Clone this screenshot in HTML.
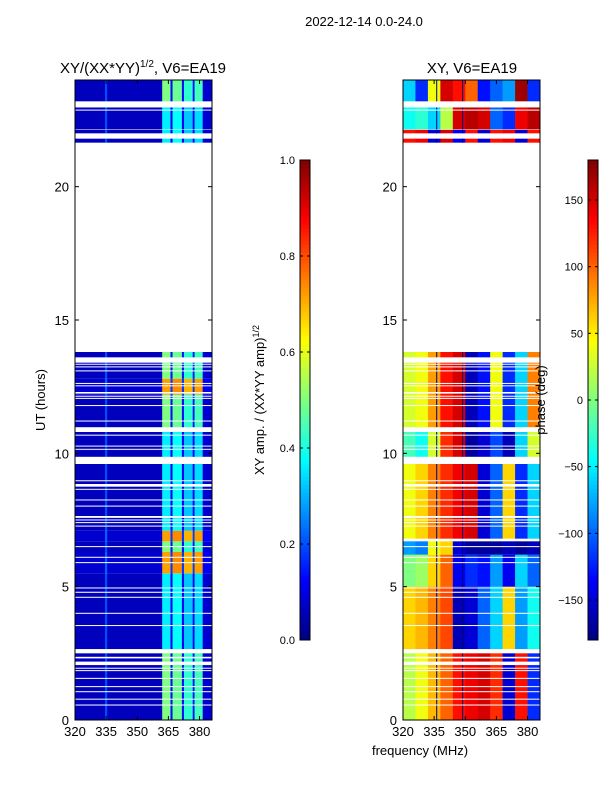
<!DOCTYPE html>
<html><head><meta charset="utf-8">
<style>
body{margin:0;background:#fff;}
svg{display:block;font-family:"Liberation Sans",sans-serif;}
</style></head>
<body>
<svg id="fig" width="600" height="800" viewBox="0 0 600 800">
<text x="364" y="26" font-size="13" text-anchor="middle">2022-12-14 0.0-24.0</text>
<text x="143" y="73" font-size="15" text-anchor="middle">XY/(XX*YY)<tspan font-size="10" dy="-6">1/2</tspan><tspan dy="6">, V6=EA19</tspan></text>
<text x="472" y="73" font-size="15" text-anchor="middle">XY, V6=EA19</text>
<text transform="translate(45,400) rotate(-90)" font-size="13" text-anchor="middle">UT (hours)</text>
<text x="420" y="755" font-size="13" text-anchor="middle">frequency (MHz)</text>
<text transform="translate(264,400) rotate(-90)" font-size="13" text-anchor="middle">XY amp. / (XX*YY amp)<tspan font-size="9" dy="-5">1/2</tspan></text>
<g id="plots"></g>
<text transform="translate(545,400) rotate(-90)" font-size="13" text-anchor="middle">phase (deg)</text>
</svg>
<script>
// ---- data ----
const ampFreqEdges = [320,334.5,335.5,362,366,367,371.5,372.5,376.7,377.6,381.5,386];
const ampProfiles = [
  [0.06,0.20,0.06,0.36,0.12,0.38,0.12,0.32,0.12,0.34,0.08],
  [0.06,0.20,0.06,0.50,0.14,0.48,0.14,0.42,0.14,0.44,0.08],
  [0.08,0.22,0.08,0.72,0.18,0.74,0.18,0.70,0.18,0.72,0.12]
];
const ampSegStart = [0,2.66,5.5,6.3,6.7,7.1,9.87,10.98,12.2,12.8,21.65,22.0,22.15,23.2];
const ampSegEnd   = [2.5,5.5,6.3,6.7,7.1,9.6,10.8,12.2,12.8,13.8,21.8,22.13,22.97,24];
const ampSegProfile=[1,0,2,1,2,0,0,1,2,1,0,0,0,1];

const phaseFreqEdges = [320,326,332,338,344,350,356,362,368,374,380,386];
const phaseProfiles = [
  [20,40,70,100,130,140,150,120,-150,130,-120],
  [60,70,90,110,-160,-150,-100,-60,60,-80,-40],
  [0,10,60,100,-140,-120,-130,-80,-140,-60,-100],
  [-80,-90,40,60,-150,-170,-170,-170,-160,-170,-160],
  [40,60,90,120,140,150,-150,-100,60,-120,-60],
  [-20,-40,30,120,150,-170,-150,-110,-160,-60,30],
  [30,40,80,130,150,-160,-130,40,-120,-60,90],
  [-60,-120,40,150,130,100,-130,-100,-80,170,-120],
  [-40,-30,-60,20,150,160,150,-100,-120,140,160],
  [130,140,-150,150,-140,130,-150,130,140,-150,130]
];
const phaseSegStart = [0,2.66,5.0,6.2,6.8,9.87,10.98,21.65,22.0,22.15,23.2];
const phaseSegEnd   = [2.5,5.0,6.2,6.7,9.6,10.8,13.8,21.8,22.13,22.97,24];
const phaseSegProfile=[0,1,2,3,4,5,6,9,9,8,7];
const phaseChannels = [336,348.5];

const gapStart = [13.4,13.33,13.23,13.08,12.61,12.52,12.24,12.13,12.05,11.78,11.2,10.67,10.26,10.14,8.96,8.75,8.64,8.24,8.01,7.58,7.49,7.39,7.26,6.49,6.09,5.89,4.94,4.77,4.59,3.99,3.53,2.31,2.06,1.93,1.84,1.55,1.24,1.05,0.77,0.55,22.86];
const gapEnd   = [13.6,13.36,13.26,13.11,12.64,12.55,12.3,12.16,12.08,11.81,11.23,10.7,10.29,10.17,8.99,8.85,8.67,8.27,8.04,7.65,7.52,7.42,7.29,6.52,6.12,5.92,4.97,4.81,4.62,4.02,3.56,2.37,2.19,1.96,1.87,1.58,1.27,1.08,0.8,0.58,22.89];

const yTicks = [0,5,10,15,20];
const xTicks = [320,335,350,365,380];
const ampTicks = [0.0,0.2,0.4,0.6,0.8,1.0];
const ampTickLabels = ["0.0","0.2","0.4","0.6","0.8","1.0"];
const phaseTicks = [-150,-100,-50,0,50,100,150];
const phaseTickLabels = ["\u2212150","\u2212100","\u221250","0","50","100","150"];

// ---- layout ----
const NS="http://www.w3.org/2000/svg";
const root=document.getElementById('plots');
const T0=0,T1=24,F0=320,F1=386;
const yTop=80,yBot=720;
function yS(h){return yBot-(h-T0)/(T1-T0)*(yBot-yTop);}
function makeX(x0,x1){return f=>x0+(f-F0)/(F1-F0)*(x1-x0);}
function el(tag,attrs,parent){const e=document.createElementNS(NS,tag);for(const k in attrs)e.setAttribute(k,attrs[k]);(parent||root).appendChild(e);return e;}
function jet(v){v=Math.max(0,Math.min(1,v));
 const r=Math.max(0,Math.min(1,1.5-Math.abs(4*v-3)));
 const g=Math.max(0,Math.min(1,1.5-Math.abs(4*v-2)));
 const b=Math.max(0,Math.min(1,1.5-Math.abs(4*v-1)));
 return `rgb(${Math.round(r*255)},${Math.round(g*255)},${Math.round(b*255)})`;}

function panel(name,x0,x1,drawData){
  const g=el('g',{});
  
  
  const xS=makeX(x0,x1);
  drawData(g,xS);
  for(let i=0;i<gapStart.length;i++){
    const r=el('rect',{x:x0,y:yS(gapEnd[i]),width:x1-x0,height:Math.max(1,yS(gapStart[i])-yS(gapEnd[i])),fill:'#fff'},g);
    
    
  }
  const fr=el('rect',{x:x0,y:yTop,width:x1-x0,height:yBot-yTop,fill:'none',stroke:'#000','stroke-width':1},g);
  
  
  yTicks.forEach(t=>{const y=yS(t);
    el('line',{x1:x0,y1:y,x2:x0+4,y2:y,stroke:'#000'},g);
    el('line',{x1:x1,y1:y,x2:x1-4,y2:y,stroke:'#000'},g);
    const tx=el('text',{x:x0-6,y:y+5,'font-size':13,'text-anchor':'end'},g);
    tx.textContent=t;
    
    
  });
  xTicks.forEach(t=>{const x=xS(t);
    el('line',{x1:x,y1:yBot,x2:x,y2:yBot-4,stroke:'#000'},g);
    el('line',{x1:x,y1:yTop,x2:x,y2:yTop+4,stroke:'#000'},g);
    const tx=el('text',{x:x,y:yBot+16,'font-size':13,'text-anchor':'middle'},g);
    tx.textContent=t;
    
    
  });
}

panel('amplitude-heatmap',75,212,(g,xS)=>{
  for(let s=0;s<ampSegStart.length;s++){
    const prof=ampProfiles[ampSegProfile[s]];
    for(let c=0;c<prof.length;c++){
      const r=el('rect',{x:xS(ampFreqEdges[c]),y:yS(ampSegEnd[s]),width:xS(ampFreqEdges[c+1])-xS(ampFreqEdges[c])+0.3,height:yS(ampSegStart[s])-yS(ampSegEnd[s]),fill:jet(prof[c])},g);
      
      
    }
  }
});
panel('phase-heatmap',403,540,(g,xS)=>{
  for(let s=0;s<phaseSegStart.length;s++){
    const prof=phaseProfiles[phaseSegProfile[s]];
    for(let c=0;c<prof.length;c++){
      const r=el('rect',{x:xS(phaseFreqEdges[c]),y:yS(phaseSegEnd[s]),width:xS(phaseFreqEdges[c+1])-xS(phaseFreqEdges[c])+0.3,height:yS(phaseSegStart[s])-yS(phaseSegEnd[s]),fill:jet((prof[c]+180)/360)},g);
      
      
    }
    phaseChannels.forEach(f=>{
      const l=el('rect',{x:xS(f),y:yS(phaseSegEnd[s]),width:1,height:yS(phaseSegStart[s])-yS(phaseSegEnd[s]),fill:'#00007f'},g);
      
      
    });
  }
});

function colorbar(name,x,vmin,vmax,ticks,labels){
  const g=el('g',{});
  
  
  const y0=160,y1=640,w=10,N=120;
  const cy=v=>y1-(v-vmin)/(vmax-vmin)*(y1-y0);
  for(let i=0;i<N;i++){
    el('rect',{x:x,y:y1-(i+1)*(y1-y0)/N,width:w,height:(y1-y0)/N+0.5,fill:jet((i+0.5)/N)},g);
  }
  el('rect',{x:x,y:y0,width:w,height:y1-y0,fill:'none',stroke:'#000'},g);
  ticks.forEach((t,i)=>{const y=cy(t);
    el('line',{x1:x,y1:y,x2:x+3,y2:y,stroke:'#000'},g);
    el('line',{x1:x+w,y1:y,x2:x+w-3,y2:y,stroke:'#000'},g);
    const tx=el('text',{x:x-5,y:y+4,'font-size':11,'text-anchor':'end'},g);
    tx.textContent=labels[i];
    
    
  });
}
colorbar('amp-colorbar',300,0,1,ampTicks,ampTickLabels);
colorbar('phase-colorbar',588,-180,180,phaseTicks,phaseTickLabels);
</script>
</body></html>
